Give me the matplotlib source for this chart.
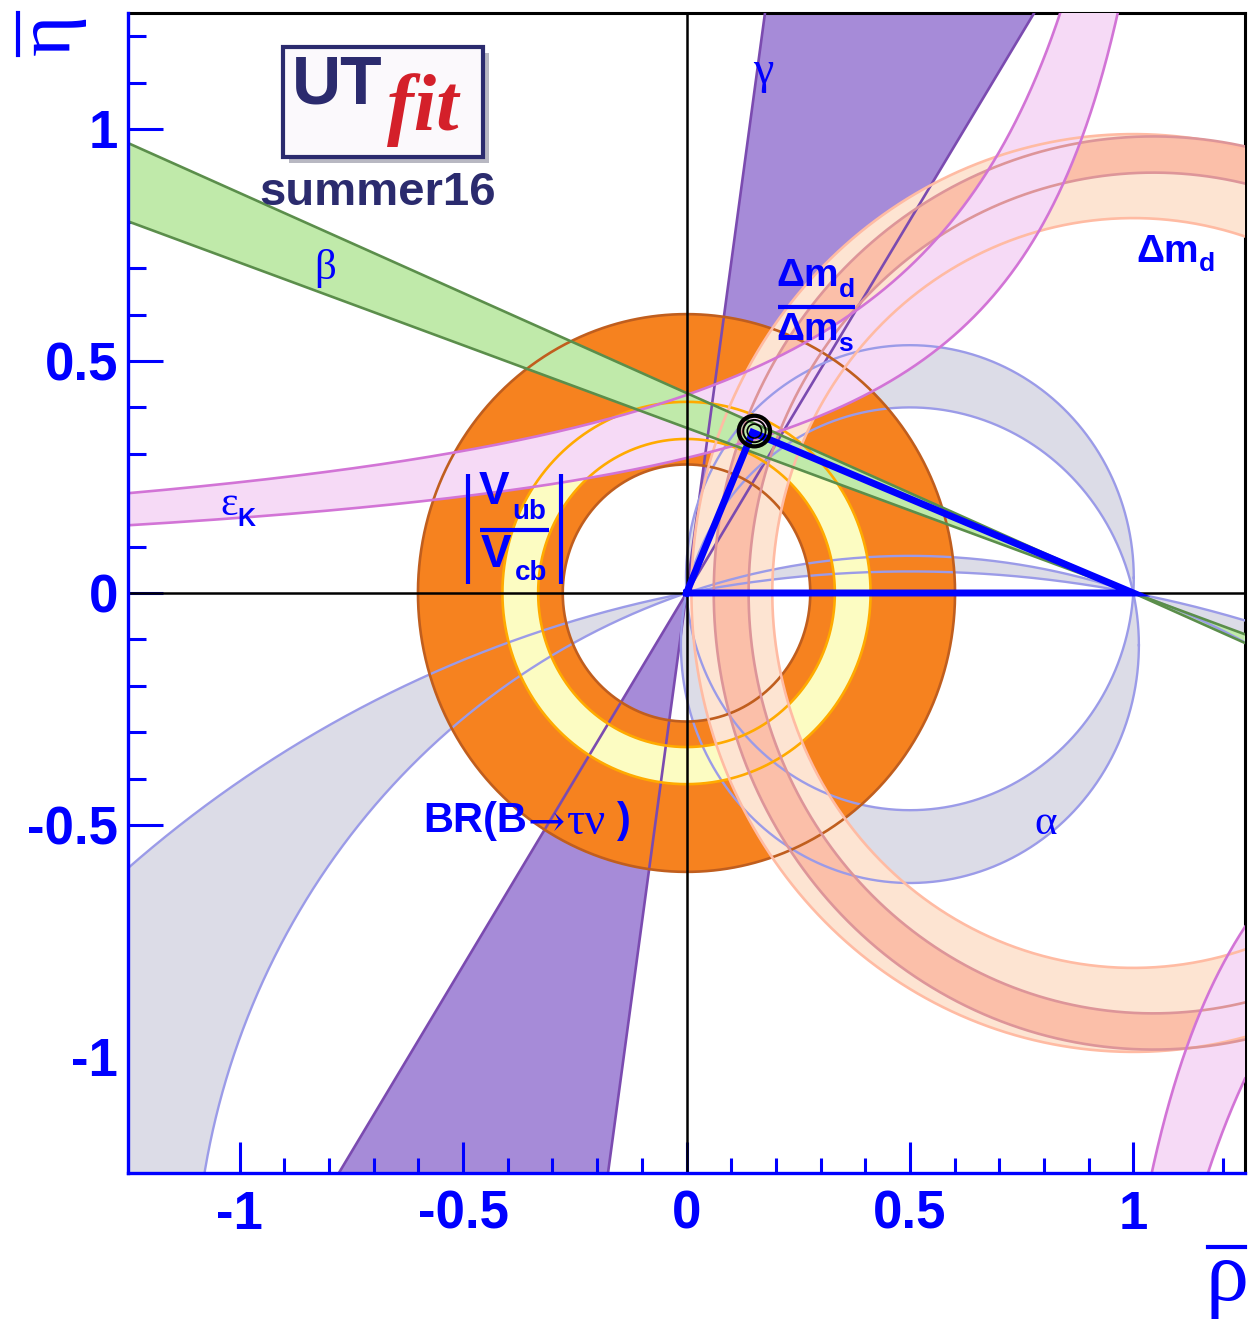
import numpy as np
import matplotlib
matplotlib.use("Agg")
import matplotlib.pyplot as plt
from matplotlib import font_manager
from matplotlib.path import Path
from matplotlib.patches import PathPatch, Ellipse, Rectangle
from matplotlib.lines import Line2D

W, H, DPI = 1258, 1327, 100

# ---- constraint bands in the (rho-bar, eta-bar) plane ----
beta_tan = [0.356, 0.431]            # tan(beta) of the band edges, lines through (1, 0)
gamma_deg = [58.1, 82.0]             # gamma band edges, lines through (0, 0)
alpha_c_small = [0.033, -0.1125]     # centres (0.5, c) of alpha circles through (0,0) and (1,0)
alpha_c_large = [-2.668, -1.522]
vub_r = [0.332, 0.412]               # |Vub/Vcb| ring around (0, 0)
btau_r = [0.277, 0.601]              # BR(B->tau nu) ring around (0, 0)
dmd_r = [0.808, 0.989]               # Delta m_d ring around (1, 0)
dms_r = [0.906, 0.984]               # Delta m_d / Delta m_s ring
dms_x0 = 1.045
epsk_rho0 = [1.270, 1.258]           # eps_K upper branch edges: eta = K / (rho0 - rho)
epsk_k = [0.542, 0.366]
epsk_low_rho0 = [0.758, 0.739]       # eps_K lower branch edges
epsk_low_k = [0.354, 0.535]
apex = (0.148, 0.346)
fit_centre = (0.152, 0.349)
fit_rx = [0.035, 0.025, 0.016]
fit_ry = [0.033, 0.024, 0.015]

tick_vals = [-1, -0.5, 0, 0.5, 1]
tick_text = ["-1", "-0.5", "0", "0.5", "1"]

BLUE = "#0000FF"
NAVY = "#2B2B6E"
SANS = ["Liberation Sans", "DejaVu Sans"]
SERIF = ["Liberation Serif", "DejaVu Serif"]


def circle(cx, cy, r, ccw=True, n=1441):
    t = np.linspace(0, 2 * np.pi, n)
    if not ccw:
        t = t[::-1]
    return np.column_stack([cx + r * np.cos(t), cy + r * np.sin(t)])


def compound(rings):
    verts, codes = [], []
    for ring in rings:
        ring = np.asarray(ring, float)
        ring = np.vstack([ring, ring[:1]])
        verts.extend(ring)
        codes.extend([Path.MOVETO] + [Path.LINETO] * (len(ring) - 2) + [Path.CLOSEPOLY])
    return Path(np.array(verts), codes)


def px(x, y):
    """pixel position -> data position"""
    return (x - 686) / 447.0, (593 - y) / 464.0


def fpx(x, y):
    return x / W, 1 - y / H


fig = plt.figure(figsize=(W / DPI, H / DPI), dpi=DPI)
ax = fig.add_axes([128 / W, 1 - 1173 / H, (1245 - 128) / W, (1173 - 13) / H])
ax.set_xlim(-1.25, 1.25)
ax.set_ylim(-1.25, 1.25)

LW = 1.9

# gamma
R = 6
g = np.radians(gamma_deg)
up = [(0, 0), (R * np.cos(g[0]), R * np.sin(g[0])), (R * np.cos(g[1]), R * np.sin(g[1]))]
dn = [(-a, -b) for a, b in up]
ax.add_patch(PathPatch(compound([up, dn]), fc="#A68BD8", ec="none", zorder=1))

# alpha
a_small = compound([circle(0.5, alpha_c_small[0], np.hypot(0.5, alpha_c_small[0]), True),
                    circle(0.5, alpha_c_small[1], np.hypot(0.5, alpha_c_small[1]), False)])
a_large = compound([circle(0.5, alpha_c_large[0], np.hypot(0.5, alpha_c_large[0]), True, 6001),
                    circle(0.5, alpha_c_large[1], np.hypot(0.5, alpha_c_large[1]), False, 6001)])
for p in (a_small, a_large):
    ax.add_patch(PathPatch(p, fc="#DCDCE7", ec="none", zorder=2))

# BR(B->tau nu) and |Vub/Vcb|
ax.add_patch(PathPatch(compound([circle(0, 0, btau_r[1]), circle(0, 0, btau_r[0], False)]),
                       fc="#F6821F", ec="none", zorder=3))
ax.add_patch(PathPatch(compound([circle(0, 0, vub_r[1]), circle(0, 0, vub_r[0], False)]),
                       fc="#FCFCC2", ec="none", zorder=3.1))

# Delta m_d and Delta m_d / Delta m_s
ax.add_patch(PathPatch(compound([circle(1, 0, dmd_r[1]), circle(1, 0, dmd_r[0], False)]),
                       fc="#FDE4D2", ec="none", zorder=4))
ax.add_patch(PathPatch(compound([circle(dms_x0, 0, dms_r[1]), circle(dms_x0, 0, dms_r[0], False)]),
                       fc="#FBBFA9", ec="none", zorder=4.1))


# eps_K
def epsk_upper(i, top=1.7):
    rmax = epsk_rho0[i] - epsk_k[i] / top
    rho = np.linspace(-2.0, rmax, 3000)
    return np.column_stack([rho, epsk_k[i] / (epsk_rho0[i] - rho)])


def epsk_lower(i, bottom=1.7):
    rmin = epsk_low_rho0[i] + epsk_low_k[i] / bottom
    rho = np.linspace(rmin, 2.0, 3000)
    return np.column_stack([rho, epsk_low_k[i] / (epsk_low_rho0[i] - rho)])


c0, c1 = epsk_upper(0), epsk_upper(1)
l0, l1 = epsk_lower(0), epsk_lower(1)
ax.add_patch(PathPatch(compound([np.vstack([c0, c1[::-1]]), np.vstack([l0, l1[::-1]])]),
                       fc="#F6DAF6", ec="none", zorder=5))

# beta
t = beta_tan
left = [(1, 0), (-4, 5 * t[0]), (-4, 5 * t[1])]
right = [(1, 0), (4, -3 * t[0]), (4, -3 * t[1])]
ax.add_patch(PathPatch(compound([left, right]), fc="#C0EAAA", ec="none", zorder=6))

# ---- contour lines on top of all fills ----
for ang in g:
    ax.plot([-R * np.cos(ang), R * np.cos(ang)], [-R * np.sin(ang), R * np.sin(ang)],
            color="#7B4BB0", lw=LW, zorder=10)
for c in alpha_c_small + alpha_c_large:
    cc = circle(0.5, c, np.hypot(0.5, c), n=6001)
    ax.plot(cc[:, 0], cc[:, 1], color="#9B9BE8", lw=1.7, zorder=10)
for r in btau_r:
    cc = circle(0, 0, r)
    ax.plot(cc[:, 0], cc[:, 1], color="#C05E1E", lw=LW, zorder=10)
for r in vub_r:
    cc = circle(0, 0, r)
    ax.plot(cc[:, 0], cc[:, 1], color="#FFAA00", lw=LW, zorder=10)
for r in dmd_r:
    cc = circle(1, 0, r)
    ax.plot(cc[:, 0], cc[:, 1], color="#FFBBA3", lw=LW, zorder=10)
for r in dms_r:
    cc = circle(dms_x0, 0, r)
    ax.plot(cc[:, 0], cc[:, 1], color="#DD9599", lw=LW, zorder=10)
for cc in (c0, c1, l0, l1):
    ax.plot(cc[:, 0], cc[:, 1], color="#D274D6", lw=LW, zorder=10)
for tb in beta_tan:
    ax.plot([-4, 4], [5 * tb, -3 * tb], color="#5B8E4B", lw=LW, zorder=10)

# coordinate axes
ax.axhline(0, color="black", lw=1.8, zorder=11)
ax.axvline(0, color="black", lw=1.8, zorder=11)

# unitarity triangle
ax.plot([0, apex[0], 1, 0], [0, apex[1], 0, 0], color=BLUE, lw=5, zorder=12,
        solid_joinstyle="miter")

# fit result
for rx, ry, lw in zip(fit_rx, fit_ry, [3.0, 1.4, 1.2]):
    ax.add_patch(Ellipse(fit_centre, 2 * rx, 2 * ry, fill=False, ec="black", lw=lw, zorder=13))

# ---- axes styling ----
for s in ("left", "bottom"):
    ax.spines[s].set_color(BLUE)
    ax.spines[s].set_linewidth(2.4)
for s in ("top", "right"):
    ax.spines[s].set_color("black")
    ax.spines[s].set_linewidth(2.2)
ax.spines["left"].set_zorder(20)
ax.spines["bottom"].set_zorder(20)

ax.set_xticks(tick_vals)
ax.set_yticks(tick_vals)
ax.set_xticklabels(tick_text)
ax.set_yticklabels(tick_text)
ax.set_xticks(np.round(np.arange(-1.2, 1.25, 0.1), 2), minor=True)
ax.set_yticks(np.round(np.arange(-1.2, 1.25, 0.1), 2), minor=True)
tick_fp = font_manager.FontProperties(family=SANS, weight="bold", size=38)
for lab in ax.get_xticklabels() + ax.get_yticklabels():
    lab.set_fontproperties(tick_fp)
    lab.set_color(BLUE)
ax.tick_params(axis="y", which="major", direction="in", length=25, width=2.2, color=BLUE, pad=7)
ax.tick_params(axis="y", which="minor", direction="in", length=13, width=2.2, color=BLUE)
ax.tick_params(axis="x", which="major", direction="in", length=22, width=2.2, color=BLUE, pad=12)
ax.tick_params(axis="x", which="minor", direction="in", length=11, width=2.2, color=BLUE)
ax.tick_params(top=False, right=False, which="both")

# axis titles: rho-bar and eta-bar
fig.text(*fpx(1227, 1300), "\u03c1", color=BLUE, fontsize=62, family=SERIF,
         ha="center", va="baseline")
fig.add_artist(Line2D([1208 / W, 1245 / W], [1 - 1247 / H] * 2, color=BLUE, lw=3))
fig.text(*fpx(50, 34), "\u03b7", color=BLUE, fontsize=57, family=SERIF,
         ha="center", va="center", rotation=90)
fig.add_artist(Line2D([18 / W] * 2, [1 - 13 / H, 1 - 55 / H], color=BLUE, lw=3))

# ---- band labels ----
greek = dict(color=BLUE, family=SERIF, ha="center", va="center", zorder=30)
ax.text(*px(763, 72), "\u03b3", fontsize=33, **greek)
ax.text(*px(325, 268), "\u03b2", fontsize=31, **greek)
ax.text(*px(1045, 824), "\u03b1", fontsize=31, **greek)
ax.text(*px(228, 505), "\u03b5", fontsize=30, **greek)
ax.text(*px(246, 519), "K", fontsize=18, color=BLUE, family=SANS, weight="bold",
        ha="center", va="center", zorder=30)

bold = dict(color=BLUE, family=SANS, weight="bold", zorder=30)
# Delta m_d
ax.text(*px(1136, 252), "\u0394m", fontsize=28, ha="left", va="center", **bold)
ax.text(*px(1199, 264), "d", fontsize=19, ha="left", va="center", **bold)
# Delta m_d / Delta m_s
ax.text(*px(776, 276), "\u0394m", fontsize=28, ha="left", va="center", **bold)
ax.text(*px(838, 290), "d", fontsize=19, ha="left", va="center", **bold)
ax.plot(*zip(px(778, 307), px(855, 307)), color=BLUE, lw=3, zorder=30, solid_capstyle="butt")
ax.text(*px(776, 330), "\u0394m", fontsize=28, ha="left", va="center", **bold)
ax.text(*px(838, 344), "s", fontsize=19, ha="left", va="center", **bold)
# |Vub / Vcb|
for xb in (467, 560):
    ax.plot(*zip(px(xb, 474), px(xb, 584)), color=BLUE, lw=3, zorder=30, solid_capstyle="butt")
ax.plot(*zip(px(479, 530), px(548, 530)), color=BLUE, lw=3, zorder=30, solid_capstyle="butt")
ax.text(*px(478, 492), "V", fontsize=33, ha="left", va="center", **bold)
ax.text(*px(512, 512), "ub", fontsize=20, ha="left", va="center", **bold)
ax.text(*px(480, 555), "V", fontsize=33, ha="left", va="center", **bold)
ax.text(*px(514, 573), "cb", fontsize=20, ha="left", va="center", **bold)
# BR(B -> tau nu)
ax.text(*px(423, 821), "BR(B", fontsize=30, ha="left", va="center", **bold)
ax.text(*px(527, 823), "\u2192", fontsize=32, color=BLUE, family=["DejaVu Serif"],
        ha="left", va="center", zorder=30)
ax.text(*px(566, 823), "\u03c4\u03bd", fontsize=33, color=BLUE, family=SERIF, ha="left",
        va="center", zorder=30)
ax.text(*px(616, 821), ")", fontsize=30, ha="left", va="center", **bold)

# ---- logo ----
try:
    font_manager.findfont(font_manager.FontProperties(family="Liberation Sans Narrow",
                                                      weight="bold"), fallback_to_default=False)
    ut_family, ut_size = ["Liberation Sans Narrow"] + SANS, 57
except ValueError:
    ut_family, ut_size = SANS, 49

fig.patches.append(Rectangle(fpx(289, 163), 200 / W, 110 / H, transform=fig.transFigure,
                             fc="#B8B8C2", ec="none", zorder=40))
fig.patches.append(Rectangle(fpx(283, 157), 200 / W, 110 / H, transform=fig.transFigure,
                             fc="#FBF9FC", ec=NAVY, lw=3, zorder=41))
fig.text(*fpx(292, 86), "UT", fontsize=ut_size, color=NAVY, family=ut_family, weight="bold",
         ha="left", va="center", zorder=42)
fig.text(*fpx(423, 110), "fit", fontsize=58, color="#D4202A", family=SERIF,
         style="italic", weight="bold", ha="center", va="center", zorder=42)
fig.text(*fpx(378, 193), "summer16", fontsize=34, color=NAVY, family=SANS, weight="bold",
         ha="center", va="center", zorder=42)

fig.savefig("out.png", dpi=DPI)
